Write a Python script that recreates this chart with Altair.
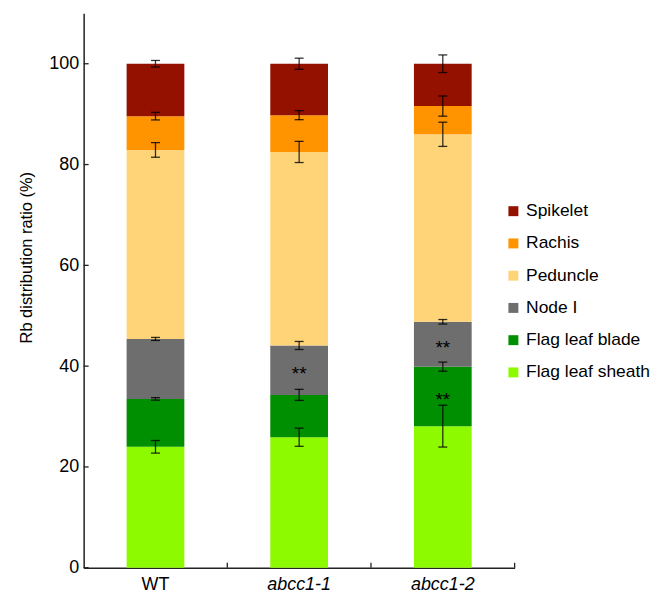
import altair as alt
import pandas as pd

genotypes = ["WT", "abcc1-1", "abcc1-2"]
# bottom to top stacking order
tissues = ["Flag leaf sheath", "Flag leaf blade", "Node I", "Peduncle", "Rachis", "Spikelet"]
legend_order = ["Spikelet", "Rachis", "Peduncle", "Node I", "Flag leaf blade", "Flag leaf sheath"]
legend_colors = ["#941100", "#FF9300", "#FFD479", "#6E6E6E", "#008F00", "#8EFA00"]

wt_vals = [24.0, 9.5, 11.9, 37.5, 6.7, 10.4]
abcc11_vals = [25.9, 8.4, 9.8, 38.4, 7.3, 10.2]
abcc12_vals = [28.1, 11.8, 8.9, 37.2, 5.6, 8.4]

wt_err = [1.25, 0.25, 0.3, 1.45, 0.75, 0.65]
abcc11_err = [1.8, 1.1, 0.8, 2.1, 0.9, 1.1]
abcc12_err = [4.15, 0.9, 0.45, 2.4, 2.0, 1.75]

sig_genotype = ["abcc1-1", "abcc1-2", "abcc1-2"]
sig_tissue = ["Node I", "Node I", "Flag leaf blade"]
sig_label = ["**", "**", "**"]

y_ticks = [0, 20, 40, 60, 80, 100]

rows = []
for g, vals, errs in zip(genotypes, [wt_vals, abcc11_vals, abcc12_vals], [wt_err, abcc11_err, abcc12_err]):
    cum = 0.0
    for t, v, e in zip(tissues, vals, errs):
        lo, hi = cum, cum + v
        rows.append({"genotype": g, "tissue": t, "lo": lo, "hi": hi, "mid": (lo + hi) / 2,
                     "elo": hi - e, "ehi": hi + e})
        cum = hi
df = pd.DataFrame(rows)

sig_df = pd.DataFrame({"genotype": sig_genotype, "tissue": sig_tissue, "label": sig_label})
sig_df = sig_df.merge(df[["genotype", "tissue", "mid"]], on=["genotype", "tissue"])

tick_df = pd.DataFrame({"v": y_ticks})
xt_df = pd.DataFrame({"genotype": genotypes})

W, H = 433, 557
FONT = "Liberation Sans"
xscale = alt.Scale(domain=genotypes, paddingInner=0, paddingOuter=0)
yscale = alt.Scale(domain=[0, 110], nice=False)

x_enc = alt.X("genotype:N", scale=xscale, sort=genotypes,
              axis=alt.Axis(title=None, ticks=False, labelAngle=0, labelFontSize=18, labelFont=FONT,
                            labelColor="black", labelPadding=8,
                            labelFontStyle={"condition": {"test": "datum.value == 'WT'", "value": "normal"}, "value": "italic"},
                            domainColor="#222", domainWidth=1.5))
y_enc_axis = alt.Axis(title="Rb distribution ratio (%)", values=y_ticks, ticks=False, grid=False,
                      labelFontSize=18, labelFont=FONT, labelColor="black", labelPadding=5,
                      titleFontSize=16.5, titleFont=FONT, titleFontWeight="normal", titleColor="black",
                      titlePadding=14, titleY=245,
                      domainColor="#222", domainWidth=1.5)

bars = alt.Chart(df).mark_bar(width=58).encode(
    x=x_enc,
    y=alt.Y("lo:Q", scale=yscale, axis=y_enc_axis),
    y2="hi:Q",
    color=alt.Color("tissue:N", scale=alt.Scale(domain=legend_order, range=legend_colors),
                    legend=alt.Legend(title=None, orient="none", legendX=423, legendY=190,
                                      symbolType="square", symbolSize=100, symbolStrokeWidth=0,
                                      labelFontSize=17.5, labelFont=FONT, labelColor="black",
                                      labelOffset=4, rowPadding=13.4)),
)

err_rule = alt.Chart(df).mark_rule(color="black", opacity=0.8, strokeWidth=1.3).encode(
    x="genotype:N", y="elo:Q", y2="ehi:Q")
cap_lo = alt.Chart(df).mark_tick(color="black", opacity=0.8, size=9, thickness=1.3).encode(
    x="genotype:N", y="elo:Q")
cap_hi = alt.Chart(df).mark_tick(color="black", opacity=0.8, size=9, thickness=1.3).encode(
    x="genotype:N", y="ehi:Q")

sig = alt.Chart(sig_df).mark_text(font=FONT, fontSize=19, color="black", baseline="middle", dy=4).encode(
    x="genotype:N", y="mid:Q", text="label:N")

yticks = alt.Chart(tick_df).mark_rule(color="#222", strokeWidth=1.3).encode(
    y="v:Q", x=alt.value(0), x2=alt.value(5))
xticks = alt.Chart(xt_df).mark_rule(color="#222", strokeWidth=1.3).encode(
    x=alt.X("genotype:N", bandPosition=1), y=alt.value(H), y2=alt.value(H - 5))

chart = alt.layer(bars, err_rule, cap_lo, cap_hi, sig, yticks, xticks).properties(
    width=W, height=H, background="white",
    padding={"left": 10, "top": 4, "right": 0, "bottom": 0},
).configure_view(strokeWidth=0, stroke="transparent")

chart.save("out.html", embed_options={"renderer": "svg", "actions": False})
